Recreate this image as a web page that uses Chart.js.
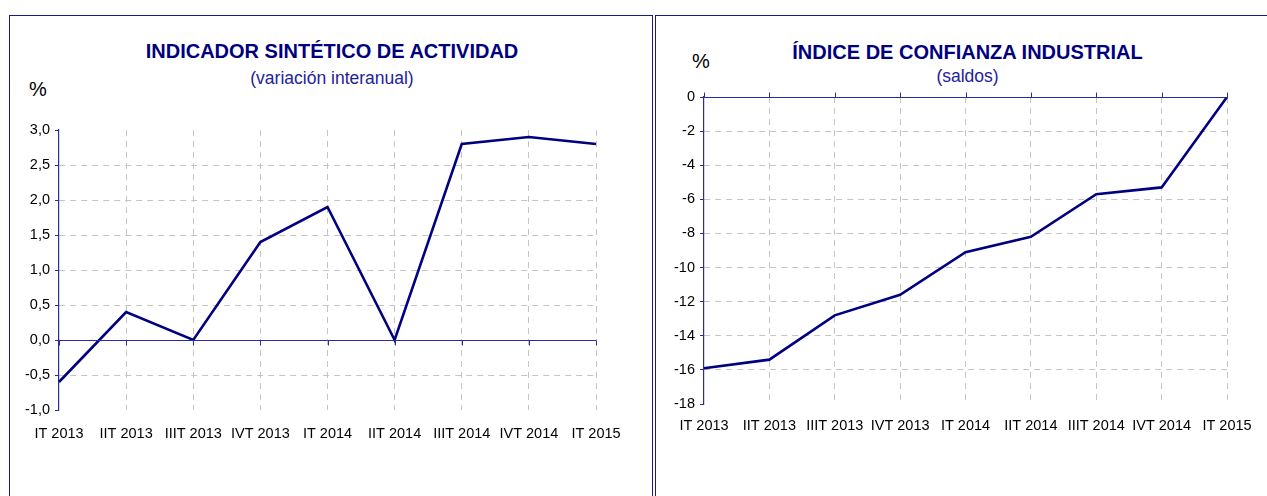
<!DOCTYPE html>
<html lang="es">
<head>
    <meta charset="UTF-8">
    <title>Indicadores</title>
    <style>
        body {
            margin: 0;
            background: #fff;
            font-family: "Liberation Sans", Arial, sans-serif;
            width: 1267px;
            height: 496px;
            overflow: hidden;
            position: relative;
        }

        .panel {
            position: absolute;
            top: 15px;
            height: 500px;
            border: 1.5px solid #1a1a8a;
            box-sizing: border-box;
        }

        .title {
            position: absolute;
            left: 0;
            right: 0;
            text-align: center;
            color: #00007f;
            font-weight: bold;
            font-size: 20px;
            line-height: 23px;
        }

        .subtitle {
            position: absolute;
            left: 0;
            right: 0;
            text-align: center;
            color: #22229a;
            font-size: 17.5px;
            line-height: 21px;
        }

        .unit {
            position: absolute;
            font-size: 20px;
            line-height: 23px;
            color: #000;
        }

        canvas {
            position: absolute;
        }
    </style>
</head>
<body>
    <div class="panel" style="left:9px; width:644px;">
        <div class="title" style="top:24px; left:2px;">INDICADOR SINTÉTICO DE ACTIVIDAD</div>
        <div class="subtitle" style="top:52px; left:2px;">(variación interanual)</div>
        <div class="unit" style="left:19px; top:62px;">%</div>
    </div>
    <div class="panel" style="left:655px; width:620px;">
        <div class="title" style="top:25px; left:5px;">ÍNDICE DE CONFIANZA INDUSTRIAL</div>
        <div class="subtitle" style="top:50px; left:5px;">(saldos)</div>
        <div class="unit" style="left:36px; top:34px;">%</div>
    </div>

    <canvas id="left-chart" style="left:10px; top:16px;"></canvas>
    <canvas id="right-chart" style="left:657px; top:16px;"></canvas>

    <script src="https://cdn.jsdelivr.net/npm/chart.js"></script>
    <script>
        // quarters shown on both charts
        const quarters = ['IT 2013', 'IIT 2013', 'IIIT 2013', 'IVT 2013', 'IT 2014',
                          'IIT 2014', 'IIIT 2014', 'IVT 2014', 'IT 2015'];

        // Indicador sintético de actividad (variación interanual, %)
        const actividad = [-0.6, 0.4, 0.0, 1.4, 1.9, 0.0, 2.8, 2.9, 2.8];

        // Índice de confianza industrial (saldos)
        const confianza = [-15.9, -15.4, -12.8, -11.6, -9.1, -8.2, -5.7, -5.3, 0.0];

        // y axis ranges: [min, max, step]
        const leftRange = [-1, 3, 0.5];
        const rightRange = [-18, 0, 2];

        const NAVY = '#000080';
        const AXIS = '#2b2ba0';
        const GRID = '#c4c4c4';

        Chart.defaults.font.family = '"Liberation Sans", Arial, sans-serif';
        Chart.defaults.font.size = 14.5;
        Chart.defaults.color = '#000';

        // draws the solid line at value 0 with small tick marks at every quarter
        const zeroAxis = {
            id: 'zeroAxis',
            afterDatasetsDraw(chart, args, opts) {
                const x = chart.scales.x;
                const y = chart.scales.y;
                const py = Math.round(y.getPixelForValue(0)) + 0.5;
                const ctx = chart.ctx;
                ctx.save();
                ctx.strokeStyle = AXIS;
                ctx.lineWidth = 1;
                ctx.beginPath();
                ctx.moveTo(x.left, py);
                ctx.lineTo(x.right, py);
                for (let i = 0; i < quarters.length; i++) {
                    const px = Math.round(x.getPixelForValue(i)) + 0.5;
                    ctx.moveTo(px, py);
                    ctx.lineTo(px, py + opts.dir * 5);
                }
                ctx.stroke();
                ctx.restore();
            }
        };

        function fmtLeft(v) {
            return v.toFixed(1).replace('.', ',');
        }

        function makeChart(id, values, range, size, pad, yWidth, fmt, dir, labelPad) {
            const canvas = document.getElementById(id);
            canvas.width = size[0];
            canvas.height = size[1];
            return new Chart(canvas, {
                type: 'line',
                data: {
                    labels: quarters,
                    datasets: [{
                        data: values,
                        borderColor: NAVY,
                        borderWidth: 2.6,
                        pointRadius: 0,
                        tension: 0,
                        fill: false
                    }]
                },
                options: {
                    responsive: false,
                    animation: false,
                    layout: { padding: pad },
                    plugins: {
                        legend: { display: false },
                        tooltip: { enabled: false },
                        zeroAxis: { dir: dir }
                    },
                    scales: {
                        x: {
                            offset: false,
                            border: { display: false, dash: [6, 5] },
                            grid: {
                                drawTicks: false,
                                color: ctx => ctx.index === 0 ? 'rgba(0,0,0,0)' : GRID
                            },
                            ticks: { autoSkip: false, maxRotation: 0, padding: labelPad },
                            afterFit: s => { s.height = 36; }
                        },
                        y: {
                            min: range[0],
                            max: range[1],
                            border: {
                                color: AXIS,
                                width: 1.2,
                                dash: ctx => [6, 5]
                            },
                            grid: {
                                tickLength: 4,
                                tickColor: AXIS,
                                tickBorderDash: [],
                                color: ctx => {
                                    const v = ctx.tick ? ctx.tick.value : null;
                                    if (v === range[0] || v === range[1] || v === 0) return 'rgba(0,0,0,0)';
                                    return GRID;
                                }
                            },
                            ticks: {
                                stepSize: range[2],
                                padding: 5,
                                callback: v => fmt(v)
                            },
                            afterFit: s => { s.width = yWidth; }
                        }
                    }
                },
                plugins: [zeroAxis]
            });
        }

        makeChart('left-chart', actividad, leftRange, [641, 480],
            { left: 0, right: 55, top: 114, bottom: 50 }, 49, fmtLeft, 1, 15);

        makeChart('right-chart', confianza, rightRange, [610, 480],
            { left: 0, right: 40, top: 81, bottom: 56 }, 47, v => String(v), -1, 13);
    </script>
</body>
</html>
